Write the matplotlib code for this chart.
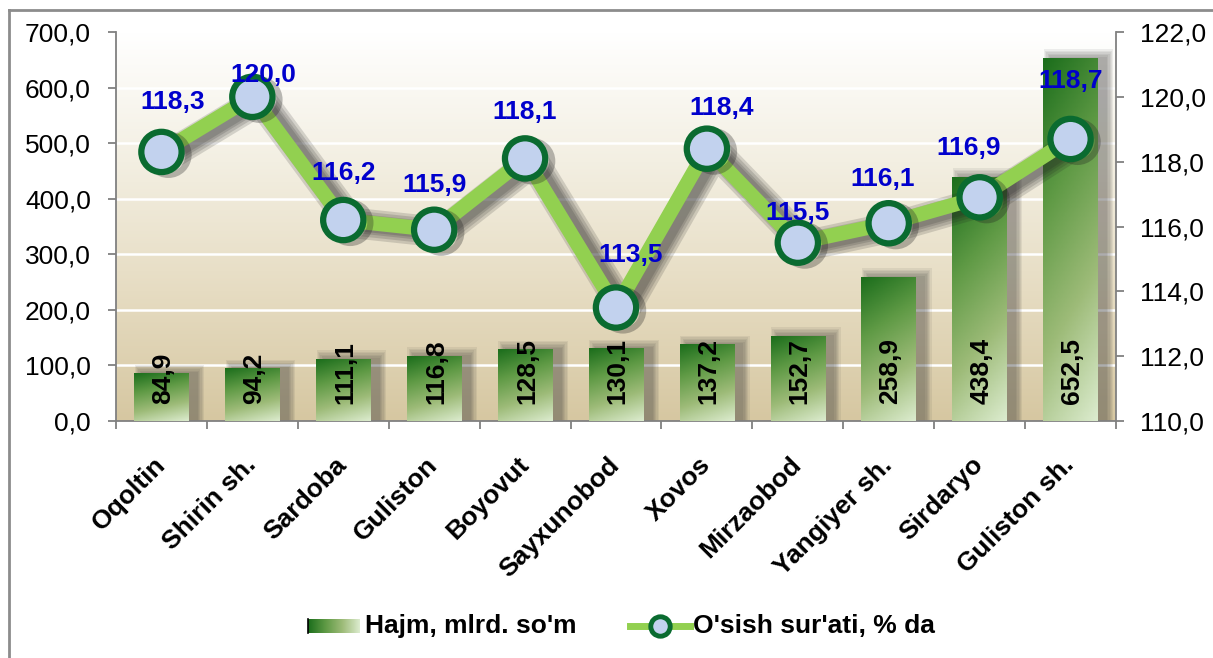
import numpy as np
import matplotlib
matplotlib.use('Agg')
import matplotlib.pyplot as plt
import matplotlib.patheffects as pe
from matplotlib.patches import Rectangle
from matplotlib.lines import Line2D
from matplotlib.colors import LinearSegmentedColormap
from matplotlib.ticker import FuncFormatter

plt.rcParams['font.family'] = ['Liberation Sans', 'DejaVu Sans']

# ma'lumotlar
hududlar = ['Oqoltin', 'Shirin sh.', 'Sardoba', 'Guliston', 'Boyovut', 'Sayxunobod',
            'Xovos', 'Mirzaobod', 'Yangiyer sh.', 'Sirdaryo', 'Guliston sh.']
hajm = [84.9, 94.2, 111.1, 116.8, 128.5, 130.1, 137.2, 152.7, 258.9, 438.4, 652.5]
osish = [118.3, 120.0, 116.2, 115.9, 118.1, 113.5, 118.4, 115.5, 116.1, 116.9, 118.7]

nom_hajm = "Hajm, mlrd. so'm"
nom_osish = "O'sish sur'ati, % da"

# yorliqlar siljishi (px): dx, dy
label_off = [(11, 50), (11, 22), (0, 47), (0, 45), (0, 46), (15, 53),
             (15, 41), (0, 30), (-6, 44), (-11, 49), (0, 58)]

W, H = 1213, 658
PX = 72 / 100  # px -> pt
FS = 19

def fmt(v):
    return f"{v:.1f}".replace('.', ',')

bar_cmap = LinearSegmentedColormap.from_list(
    'bar', ['#1c6e1c', '#5f9a45', '#9dbb78', '#dbebcd'])
bg_cmap = LinearSegmentedColormap.from_list(
    'bg', ['#ffffff', '#f3efe2', '#e6dcc2', '#d6c7a1'])

fig = plt.figure(figsize=(W / 100, H / 100), dpi=100)
ax = fig.add_axes([116 / W, 1 - 421 / H, 1000 / W, 389 / H])
ax2 = ax.twinx()

x = np.arange(len(hududlar))
n = len(x)

# fon
grad = np.linspace(0, 1, 256).reshape(-1, 1)
ax.imshow(grad, extent=[-0.5, n - 0.5, 0, 700], aspect='auto', cmap=bg_cmap,
          zorder=0, origin='upper')
ax.patch.set_visible(False)

yticks = np.arange(0, 701, 100)
for v in yticks[1:]:
    ax.axhline(v, color='white', lw=1.8, zorder=1)

# ustunlar
bw = 0.6
px_x = n / 1000.0
px_y = 700 / 389.0
for xi, h in zip(x, hajm):
    for k in range(6):
        grow = (6 - k) * 2.5
        ax.add_patch(Rectangle((xi - bw / 2 + (8 - grow / 2) * px_x, 0),
                               bw + grow * px_x, h + (6 - k) * 1.5 * px_y,
                               facecolor='#303030', alpha=0.08, lw=0, zorder=2))
    u, vv = np.meshgrid(np.linspace(0, 1, 30), np.linspace(0, 1, 80))
    t = 0.8 * vv + 0.2 * u
    ax.imshow(t, extent=[xi - bw / 2, xi + bw / 2, 0, h], aspect='auto',
              cmap=bar_cmap, vmin=0, vmax=1, origin='upper', zorder=3)
    ax.text(xi + 0.02, 30, fmt(h), rotation=90, ha='center', va='bottom',
            fontsize=FS, fontweight='bold', color='black', zorder=5)

ax.set_xlim(-0.5, n - 0.5)
ax.set_ylim(0, 700)
ax2.set_ylim(110, 122)

# chiziq
shadow = [pe.SimpleLineShadow(offset=(6, -2), shadow_color='#202020', alpha=0.16, linewidth=w)
          for w in (22, 18, 14, 11)] + [pe.Normal()]
ax2.plot(x, osish, color='#92d050', lw=10.5, zorder=4, solid_capstyle='round',
         path_effects=shadow)
ax2.plot(x, osish, 'o', ms=29, mfc='#c2d2ee', mec='#0a6b30', mew=4.5, zorder=5,
         path_effects=[pe.SimpleLineShadow(offset=(5, -2), shadow_color='#202020', alpha=0.3),
                       pe.Normal()])
for xi, v, (dx, dy) in zip(x, osish, label_off):
    ax2.annotate(fmt(v), (xi, v), xytext=(dx * PX, dy * PX), textcoords='offset points',
                 ha='center', va='center', fontsize=FS, fontweight='bold',
                 color='#0000cc', zorder=6)

# o'qlar
ax.set_yticks(yticks)
ax.yaxis.set_major_formatter(FuncFormatter(lambda v, p: fmt(v)))
ax2.set_yticks(np.arange(110, 123, 2))
ax2.yaxis.set_major_formatter(FuncFormatter(lambda v, p: fmt(v)))
ax.set_xticks(np.arange(-0.5, n, 1))
ax.set_xticklabels([])
ax.set_xticks(x, minor=True)
ax.set_xticklabels(hududlar, minor=True, rotation=45, ha='right', va='center',
                   rotation_mode='anchor', fontsize=FS, fontweight='bold')
ax.tick_params(axis='x', which='major', length=6, width=1.3, color='#808080', direction='out')
ax.tick_params(axis='x', which='minor', length=0, pad=29)
ax.tick_params(axis='y', length=6, width=1.3, color='#808080', labelsize=FS, pad=12)
ax2.tick_params(axis='y', length=6, width=1.3, color='#808080', labelsize=FS, pad=11)

for a in (ax, ax2):
    for s in a.spines.values():
        s.set_visible(False)
ax.spines['left'].set_visible(True)
ax.spines['bottom'].set_visible(True)
ax2.spines['right'].set_visible(True)
for s in (ax.spines['left'], ax.spines['bottom'], ax2.spines['right']):
    s.set_color('#808080')
    s.set_linewidth(1.3)

# afsona
ly = 1 - 626 / H
sw = fig.add_axes([308 / W, 1 - 633 / H, 52 / W, 14 / H])
sw.imshow(np.linspace(0, 1, 50).reshape(1, -1), aspect='auto', cmap=bar_cmap)
sw.axis('off')
fig.add_artist(Line2D([308 / W, 308 / W], [1 - 633 / H, 1 - 619 / H], color='black', lw=1.2))
fig.text(365 / W, ly, nom_hajm, fontsize=FS, fontweight='bold', va='center', ha='left')
fig.add_artist(Line2D([630 / W, 690 / W], [ly, ly], color='#92d050', lw=5))
fig.add_artist(Line2D([660 / W], [ly], marker='o', ms=14, mfc='#c2d2ee', mec='#0a6b30', mew=3.5))
fig.text(693 / W, ly, nom_osish, fontsize=FS, fontweight='bold', va='center', ha='left')

# ramka
fig.add_artist(Line2D([9 / W, 9 / W], [0, 1 - 10 / H], color='#8c8c8c', lw=2))
fig.add_artist(Line2D([9 / W, 1], [1 - 10 / H, 1 - 10 / H], color='#8c8c8c', lw=2))

fig.savefig('out.png', dpi=100)
